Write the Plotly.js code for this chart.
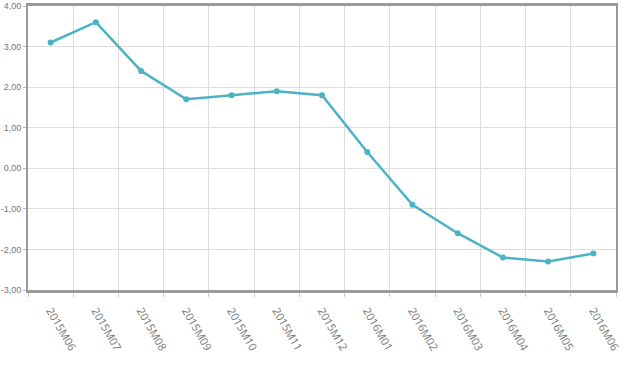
<!DOCTYPE html>
<html><head><meta charset="utf-8">
<script src="https://cdn.plot.ly/plotly-3.0.1.min.js"></script>
<style>html,body{margin:0;padding:0;background:#fff}#c{width:620px;height:368px}</style>
</head><body><div id="c"></div>
<script>
const categories = ["2015M06","2015M07","2015M08","2015M09","2015M10","2015M11","2015M12","2016M01","2016M02","2016M03","2016M04","2016M05","2016M06"];
const values = [3.1, 3.6, 2.4, 1.7, 1.8, 1.9, 1.8, 0.4, -0.9, -1.6, -2.2, -2.3, -2.1];
const yTicks = [-3, -2, -1, 0, 1, 2, 3, 4];
const yTickText = yTicks.map(v => v.toFixed(2).replace('.', ','));

Plotly.newPlot('c', [{
  type: 'scatter', mode: 'lines+markers',
  x: categories, y: values,
  line: {color: '#4bb3c3', width: 2.5},
  marker: {color: '#4bb3c3', size: 6},
  hoverinfo: 'none'
}], {
  width: 620, height: 368,
  margin: {l: 28, r: 4, t: 6, b: 78},
  paper_bgcolor: '#fff', plot_bgcolor: '#fff',
  showlegend: false,
  font: {family: 'Open Sans, sans-serif', color: '#777'},
  xaxis: {
    type: 'category', range: [-0.5, 12.5],
    tickson: 'boundaries', ticks: 'outside', ticklen: 4, tickcolor: '#ccc',
    showgrid: true, gridcolor: '#ddd', gridwidth: 1,
    showline: true, linecolor: '#9a9a9a', linewidth: 3, mirror: true,
    tickangle: 60, tickfont: {size: 11, color: '#777'},
    ticklabelstandoff: 7,
    zeroline: false, fixedrange: true, automargin: false
  },
  yaxis: {
    range: [-3, 4], tickmode: 'array', tickvals: yTicks, ticktext: yTickText,
    ticks: 'outside', ticklen: 3, tickcolor: '#bbb',
    showgrid: true, gridcolor: '#ddd', gridwidth: 1,
    showline: true, linecolor: '#9a9a9a', linewidth: 2, mirror: true,
    tickfont: {family: 'Liberation Sans, Arial, sans-serif', size: 9, color: '#777'},
    zeroline: false, fixedrange: true, automargin: false
  }
}, {displayModeBar: false, staticPlot: true});
</script>
</body></html>
